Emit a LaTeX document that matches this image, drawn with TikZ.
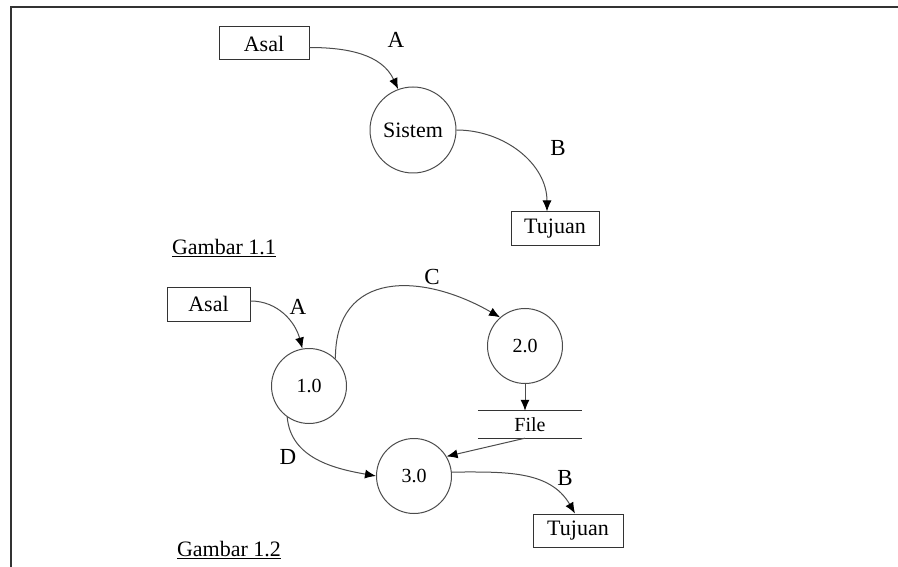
\documentclass[tikz,border=0pt]{standalone}
\usepackage{fontspec}
\setmainfont{Liberation Serif}
\usepackage{tikz}
\usetikzlibrary{arrows.meta}
\tikzset{ent/.style={draw=black!80, line width=1pt, minimum width=88pt, minimum height=34pt, inner sep=0pt, font=\fontsize{22}{26}\selectfont}}
\tikzset{proc/.style={circle, draw=black!70, line width=1pt, minimum size=75pt, inner sep=0pt, font=\fontsize{20}{24}\selectfont}}
\tikzset{flw/.style={-{Latex[length=11pt, width=9pt, color=black]}, draw=black!70, line width=1pt}}
\tikzset{lbl/.style={inner sep=0pt, font=\fontsize{23}{27}\selectfont}}
\tikzset{figcap/.style={inner sep=0pt, font=\fontsize{22}{26}\selectfont}}

\begin{document}
\begin{tikzpicture}[x=1pt, y=1pt]
    \useasboundingbox (0,0) rectangle (898,-567);
    \draw[line width=2pt, draw=black!80] (11,-567) -- (11,-7) -- (898,-7);

    % Gambar 1.1
    \node[ent, minimum width=90pt, minimum height=33pt] (asla) at (264,-43.5) {Asal};
    \node[proc, minimum size=86pt, font=\fontsize{22}{26}\selectfont] (sis) at (413,-130) {Sistem};
    \node[ent] (tjna) at (555,-229) {Tujuan};

    \node[lbl] (la) at (396,-40) {A};
    \node[lbl] (lb) at (558,-148) {B};
    \node[figcap] (ga) at (224,-248) {\underline{Gambar 1.1}};

    % Gambar 1.2
    \node[ent, minimum width=83pt] (aslb) at (208.5,-304) {Asal};
    \node[proc] (pa) at (309,-386) {1.0};
    \node[proc] (pb) at (525,-346) {2.0};
    \node[proc] (pc) at (414,-476) {3.0};
    \node[ent, minimum width=90pt, minimum height=33pt] (tjnb) at (578,-530.5) {Tujuan};
    \node[minimum width=104pt, minimum height=27pt, inner sep=0pt, font=\fontsize{20}{24}\selectfont] (fil) at (530,-424.5) {File};
    \draw[draw=black!80, line width=1pt]
    (fil.north west) -- (fil.north east)
    (fil.south west) -- (fil.south east);

    \node[lbl] (la2) at (298,-307) {A};
    \node[lbl] (lc) at (432,-277) {C};
    \node[lbl] (ld) at (288,-457) {D};
    \node[lbl] (lb2) at (565,-478) {B};
    \node[figcap] (gb) at (229,-550) {\underline{Gambar 1.2}};

    \draw
    ([yshift=-4pt]asla.east) edge[flw, out=0, in=115] (sis.110)
    (sis.east) edge[flw, out=0, in=90] ([xshift=-8pt]tjna.north)
    ([yshift=3pt]aslb.east) edge[flw, out=0, in=105] (pa.100)
    (pa.46) edge[flw, out=90, in=150, looseness=1.35] (pb.131)
    (pb.south) edge[flw] (pb.south |- fil.north)
    ([xshift=-5pt]fil.south) edge[flw] (pc.31)
    (pa.235) edge[flw, out=-85, in=170] (pc.west)
    (pc.6) edge[flw, out=0, in=120] ([xshift=-3pt]tjnb.north);
\end{tikzpicture}
\end{document}
